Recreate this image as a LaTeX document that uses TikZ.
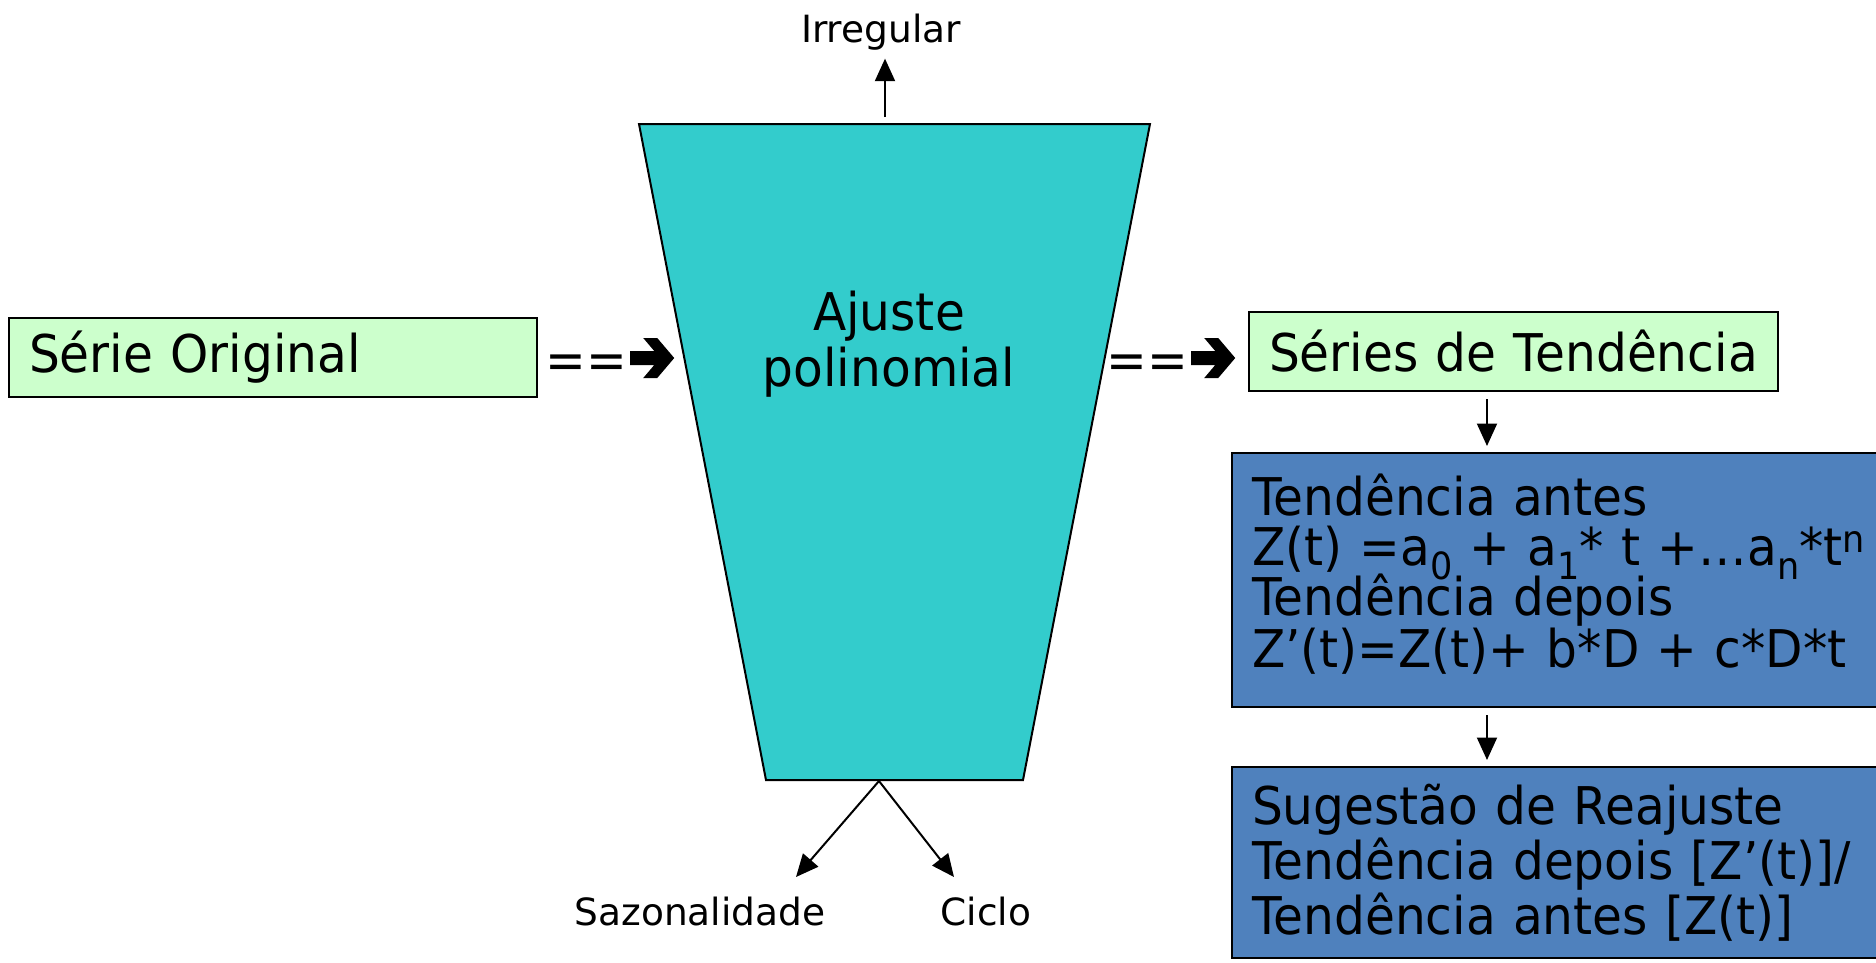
\documentclass[tikz,border=0pt]{standalone}
\usepackage{fontspec}
\setmainfont{DejaVu Sans}
\newfontfamily\condfont{DejaVu Sans}[FakeStretch=0.935]
\usepackage{tikz}
\usetikzlibrary{arrows.meta, positioning}
\definecolor{palegreen}{RGB}{204,255,204}
\definecolor{tealfill}{RGB}{51,204,204}
\definecolor{steelblue}{RGB}{79,129,189}
\newcommand{\pxu}{0.4pt}
\newcommand{\lowidx}[1]{\raisebox{-5.6pt}[0pt][0pt]{\fontsize{15}{15}\selectfont #1}}
\newcommand{\upidx}[1]{\raisebox{5pt}[0pt][0pt]{\fontsize{15}{15}\selectfont #1}}

\begin{document}
\begin{tikzpicture}[x=0.4pt, y=-0.4pt,
        bigtxt/.style={font=\condfont\fontsize{20.8}{20}\selectfont},
        smalltxt/.style={font=\fontsize{15}{18}\selectfont, inner sep=3.2pt},
        greenbox/.style={draw, line width=0.8pt, fill=palegreen, bigtxt, minimum height=79*\pxu, inner xsep=20*\pxu, align=left},
        bluebox/.style={draw, line width=0.8pt, fill=steelblue, bigtxt, text width=629*\pxu, inner xsep=20*\pxu, align=left, anchor=north west},
        arr/.style={line width=0.8pt, -{Triangle[length=9pt, width=8pt]}},
        heavyarrow/.pic={\fill (0,-7) -- (24,-7) -- (13,-20) -- (27,-20) -- (44,0) -- (27,20) -- (13,20) -- (24,7) -- (0,7) -- cycle;}]
        \useasboundingbox (0,0) rectangle (1876,962);

        \node[greenbox, text width=488*\pxu, anchor=west] (orig) at (8,357.5) {Série Original};
        \node[bigtxt, inner sep=0pt] (eq1) at (586,367) {==};
        \pic at ([xshift=3*\pxu, yshift=9*\pxu]eq1.east) {heavyarrow};

        \draw[line width=0.8pt, fill=tealfill] (639,124) -- (1150,124) -- (1023,780) -- (766,780) -- cycle;
        \node[bigtxt, align=center, font=\condfont\fontsize{20.8}{22.4}\selectfont] (fit) at (889,344) {Ajuste\\polinomial};
        \coordinate (topmid) at (885,117);
        \coordinate (botmid) at (879,781);

        \node[smalltxt] (irr) at (881,32) {Irregular};
        \node[smalltxt] (saz) at (700,912) {Sazonalidade};
        \node[smalltxt] (ciclo) at (986,912) {Ciclo};
        \coordinate (saztip) at (796,877);
        \coordinate (ciclotip) at (954,877);
        \draw[arr] (topmid) -- (topmid |- irr.south);
        \draw[arr] (botmid) -- (saztip);
        \draw[arr] (botmid) -- (ciclotip);

        \node[bigtxt, inner sep=0pt] (eq2) at (1147,367) {==};
        \pic at ([xshift=3*\pxu, yshift=9*\pxu]eq2.east) {heavyarrow};
        \node[greenbox, text width=489*\pxu, anchor=west] (trend) at (1248,351.5) {Séries de Tendência};

        \node[bluebox, minimum height=254*\pxu] (tend) at (1231,452) {Tendência antes\\
            Z(t) =a\lowidx{0} + a\lowidx{1}* t +…a\lowidx{n}*t\upidx{n}\\
            Tendência depois\\
            Z’(t)=Z(t)+ b*D + c*D*t\rule[-7.5pt]{0pt}{0pt}};
        \node[bluebox, minimum height=191*\pxu] (reaj) at (1231,766) {Sugestão de Reajuste\\
            Tendência depois [Z’(t)]/\\
            Tendência antes [Z(t)]};

        \coordinate (ax) at (1487,0);
        \draw[arr, shorten <=7*\pxu, shorten >=6*\pxu] (trend.south -| ax) -- (ax |- tend.north);
        \draw[arr, shorten <=7*\pxu, shorten >=6*\pxu] (tend.south -| ax) -- (ax |- reaj.north);
    \end{tikzpicture}
\end{document}
